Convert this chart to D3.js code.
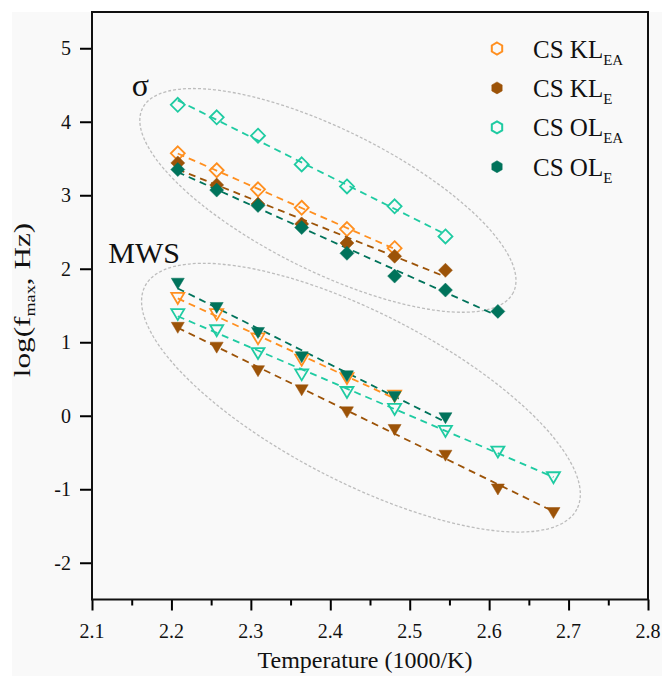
<!DOCTYPE html>
<html>
<head>
<meta charset="utf-8">
<script src="https://cdn.jsdelivr.net/npm/d3@7"></script>
<style>
  body { margin: 0; background: #fff; }
  svg text { font-family: "Liberation Serif", "Times New Roman", serif; fill: #111; }
</style>
</head>
<body>
<script>
const w = 666;
const h = 676;
const serif = '"Liberation Serif", "Times New Roman", serif';

// 1000/T values (x)
const tempX = [2.208, 2.257, 2.309, 2.364, 2.421, 2.481, 2.545, 2.611, 2.681];

// sigma relaxation (diamonds)
const sigKLEA = [3.57, 3.34, 3.08, 2.83, 2.54, 2.28];
const sigKLE = [3.44, 3.14, 2.88, 2.61, 2.35, 2.17, 1.98];
const sigOLEA = [4.23, 4.06, 3.81, 3.42, 3.12, 2.85, 2.44];
const sigOLE = [3.35, 3.07, 2.86, 2.56, 2.21, 1.90, 1.71, 1.42];

// MWS relaxation (down triangles)
const mwsKLEA = [1.61, 1.39, 1.06, 0.77, 0.52, 0.28];
const mwsKLE = [1.21, 0.94, 0.62, 0.36, 0.06, -0.18, -0.53, -0.99, -1.31];
const mwsOLEA = [1.39, 1.17, 0.86, 0.57, 0.33, 0.10, -0.20, -0.48, -0.83];
const mwsOLE = [1.81, 1.48, 1.14, 0.81, 0.55, 0.27, -0.02];

const seriesNames = ["KL", "KL", "OL", "OL"];
const seriesSubs = ["EA", "E", "EA", "E"];
const xTicks = [2.1, 2.2, 2.3, 2.4, 2.5, 2.6, 2.7, 2.8];
const yTicks = [-2, -1, 0, 1, 2, 3, 4, 5];

const colors = ["#ff8f1f", "#9c5308", "#1fcba2", "#00735b"];
const filled = [false, true, false, true];

const svg = d3.select("body").append("svg").attr("width", w).attr("height", h);

svg.append("rect").attr("x", 12).attr("y", 12).attr("width", 650).attr("height", h - 12)
  .attr("fill", "#f9f9f9");

const xScale = d3.scaleLinear().domain([2.1, 2.8]).range([92, 648]);
const yScale = d3.scaleLinear().domain([-2.5, 5.5]).range([599.5, 11.5]);

// ellipses around groups (centre in data units)
const ellipses = [
  { cx: 2.397, cy: 2.93, rx: 207, ry: 71, angle: 26.4 },
  { cx: 2.4386, cy: 0.246, rx: 243, ry: 84.5, angle: 27.3 }
];
svg.selectAll("ellipse.grp").data(ellipses).enter().append("ellipse")
  .attr("class", "grp")
  .attr("transform", d => `translate(${xScale(d.cx)},${yScale(d.cy)}) rotate(${d.angle})`)
  .attr("rx", d => d.rx).attr("ry", d => d.ry)
  .attr("fill", "none").attr("stroke", "#bdbdbd").attr("stroke-width", 1.3)
  .attr("stroke-dasharray", "3,2");

function toPoints(vals) {
  return vals.map((v, i) => [tempX[i], v]);
}

function fitLine(pts) {
  const mx = d3.mean(pts, p => p[0]);
  const my = d3.mean(pts, p => p[1]);
  const sxy = d3.sum(pts, p => (p[0] - mx) * (p[1] - my));
  const sxx = d3.sum(pts, p => (p[0] - mx) ** 2);
  const b = sxy / sxx;
  const a = my - b * mx;
  const x0 = pts[0][0], x1 = pts[pts.length - 1][0];
  return [[x0, a + b * x0], [x1, a + b * x1]];
}

const diamond = "M0,-7L7,0L0,7L-7,0Z";
const triDown = "M-6.5,-4.5L6.5,-4.5L0,6.5Z";

const groups = [
  { sets: [sigKLEA, sigKLE, sigOLEA, sigOLE], shape: diamond },
  { sets: [mwsKLEA, mwsKLE, mwsOLEA, mwsOLE], shape: triDown }
];

const line = d3.line().x(d => xScale(d[0])).y(d => yScale(d[1]));

groups.forEach(g => {
  g.sets.forEach((vals, k) => {
    const pts = toPoints(vals);
    svg.append("path").datum(fitLine(pts)).attr("d", line)
      .attr("fill", "none").attr("stroke", colors[k]).attr("stroke-width", 1.8)
      .attr("stroke-dasharray", "7,5");
  });
  g.sets.forEach((vals, k) => {
    svg.append("g").selectAll("path").data(toPoints(vals)).enter().append("path")
      .attr("d", g.shape)
      .attr("transform", d => `translate(${xScale(d[0])},${yScale(d[1])})`)
      .attr("fill", filled[k] ? colors[k] : "none")
      .attr("stroke", colors[k])
      .attr("stroke-width", filled[k] ? 0.5 : 1.8);
  });
});

// group labels
svg.append("text").attr("x", xScale(2.161)).attr("y", yScale(4.35))
  .attr("text-anchor", "middle").attr("font-size", 32).style("font-family", serif).text("σ");
svg.append("text").attr("x", xScale(2.1206)).attr("y", yScale(2.085))
  .attr("font-size", 30).style("font-family", serif).text("MWS");

// axes
const xAxis = d3.axisBottom(xScale).tickValues(d3.range(2.1, 2.8001, 0.05))
  .tickSize(11).tickFormat(d => "");
const gx = svg.append("g").attr("transform", "translate(0," + 599.5 + ")").call(xAxis);
gx.selectAll(".tick line").attr("stroke-width", 2)
  .attr("y2", (d, i) => (i % 2 === 0 ? 11 : 6));
gx.selectAll(".tick text").remove();
gx.select(".domain").remove();
svg.selectAll("text.xt").data(xTicks).enter().append("text").attr("class", "xt")
  .attr("x", d => xScale(d)).attr("y", 638).attr("text-anchor", "middle")
  .attr("font-size", 20).style("font-family", serif).text(d => d.toFixed(1));

const yAxis = d3.axisLeft(yScale).tickValues(yTicks).tickSize(12).tickFormat(d => "");
const gy = svg.append("g").attr("transform", "translate(92,0)").call(yAxis);
gy.selectAll(".tick line").attr("stroke-width", 2);
gy.selectAll(".tick text").remove();
gy.select(".domain").remove();
svg.selectAll("text.yt").data(yTicks).enter().append("text").attr("class", "yt")
  .attr("x", 71).attr("y", d => yScale(d) + 7).attr("text-anchor", "end")
  .attr("font-size", 20).style("font-family", serif).text(d => d);

// frame
svg.append("rect").attr("x", 92).attr("y", 12).attr("width", 556).attr("height", 587.5)
  .attr("fill", "none").attr("stroke", "#111").attr("stroke-width", 2);

// axis titles
svg.append("text").attr("x", 365).attr("y", 668).attr("text-anchor", "middle")
  .attr("font-size", 24).style("font-family", serif).text("Temperature (1000/K)");

const yt = svg.append("text").attr("transform", "translate(30,300) rotate(-90) scale(1.3,1)")
  .attr("text-anchor", "middle").attr("font-size", 24).style("font-family", serif);
yt.append("tspan").text("log(f");
yt.append("tspan").attr("font-size", 14).attr("dy", 5).text("max");
yt.append("tspan").attr("dy", -5).text(", Hz)");

// legend
const hex = d3.range(6).map(i => {
  const a = Math.PI / 3 * i - Math.PI / 2;
  return [6 * Math.cos(a), 6 * Math.sin(a)];
});
const legend = svg.append("g");
seriesNames.forEach((n, k) => {
  const ly = 48.5 + k * 39.4;
  legend.append("path").attr("d", "M" + hex.join("L") + "Z")
    .attr("transform", `translate(497,${ly})`)
    .attr("fill", filled[k] ? colors[k] : "none")
    .attr("stroke", colors[k]).attr("stroke-width", filled[k] ? 0.5 : 2);
  const t = legend.append("text").attr("x", 533).attr("y", ly + 9)
    .attr("font-size", 25).style("font-family", serif);
  t.append("tspan").text("CS " + n);
  t.append("tspan").attr("font-size", 15).attr("dy", 7).text(seriesSubs[k]);
});
</script>
</body>
</html>
